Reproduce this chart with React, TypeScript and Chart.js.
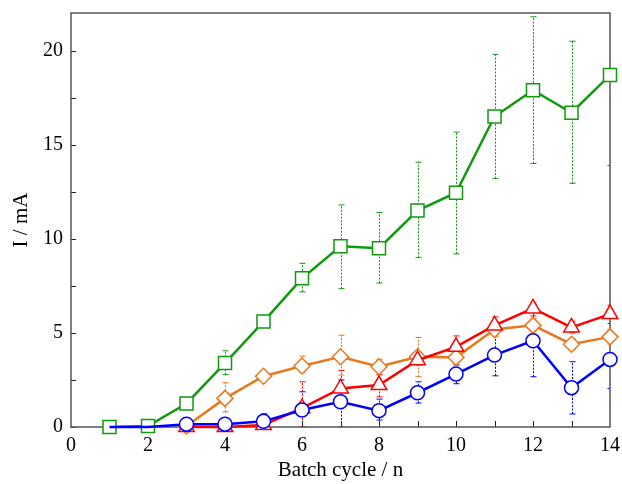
import React, { useEffect, useRef } from "react";
import { Chart, registerables } from "chart.js";

Chart.register(...registerables);

const cyclesAll = [1, 2, 3, 4, 5, 6, 7, 8, 9, 10, 11, 12, 13, 14];
const cyclesLate = [3, 4, 5, 6, 7, 8, 9, 10, 11, 12, 13, 14];

const greenVals = [0, 0.05, 1.25, 3.4, 5.6, 7.9, 9.6, 9.5, 11.5, 12.45, 16.5, 17.9, 16.7, 18.7];
const greenLow = [0, 0, 1.1, 2.78, 5.5, 7.18, 7.35, 7.65, 9.0, 9.2, 13.2, 14.0, 12.95, 13.9];
const greenHigh = [0, 0.15, 1.4, 4.05, 5.7, 8.7, 11.8, 11.4, 14.07, 15.67, 19.8, 21.8, 20.5, 23.5];

const orangeVals = [0.05, 1.52, 2.7, 3.24, 3.73, 3.2, 3.73, 3.7, 5.18, 5.4, 4.4, 4.79];
const orangeLow = [0, 0.8, 2.55, 2.9, 2.76, 2.76, 2.67, 3.3, 4.8, 5.1, 4.1, 4.4];
const orangeHigh = [0.1, 2.35, 2.85, 3.77, 4.88, 3.6, 4.76, 4.1, 5.6, 5.75, 4.7, 5.2];

const redVals = [0, 0, 0.1, 1.0, 2.05, 2.23, 3.55, 4.26, 5.4, 6.3, 5.29, 6.0];
const redLow = [0, 0, 0, 0, 1.3, 1.6, 3.3, 3.7, 4.9, 5.9, 5.0, 5.5];
const redHigh = [0, 0, 0.2, 2.4, 3.0, 2.8, 3.8, 4.84, 5.85, 6.6, 5.62, 6.47];

const blueVals = [0, 0, 0.15, 0.15, 0.3, 0.9, 1.34, 0.87, 1.82, 2.81, 3.82, 4.58, 2.09, 3.59];
const blueLow = [0, 0, 0.05, 0.05, 0.1, 0, 0, 0.37, 1.27, 2.3, 2.72, 2.67, 0.69, 2.05];
const blueHigh = [0, 0, 0.25, 0.3, 0.7, 1.87, 2.5, 1.48, 2.4, 3.3, 4.97, 6.5, 3.47, 5.1];
const blueFirstMarkedCycle = 3;

const xTicks = [0, 2, 4, 6, 8, 10, 12, 14];
const yTicks = [0, 5, 10, 15, 20];
const xTitle = "Batch cycle / n";
const yTitle = "I / mA";

const GREEN = "#109a10";
const ORANGE = "#e8781e";
const RED = "#ff0000";
const BLUE = "#0000ff";
const FONT = "'Liberation Serif', 'Times New Roman', serif";

const pts = (xs: number[], ys: number[]) => xs.map((x, i) => ({ x, y: ys[i] }));

const errorBars = {
  id: "errorBars",
  beforeDatasetsDraw(chart: any) {
    const { ctx, chartArea, scales } = chart;
    const xs = scales.x;
    const ys = scales.y;
    ctx.save();
    ctx.beginPath();
    ctx.rect(chartArea.left, chartArea.top, chartArea.right - chartArea.left, chartArea.bottom - chartArea.top);
    ctx.clip();
    chart.data.datasets.forEach((ds: any) => {
      const lo: number[] = ds.errLow;
      const hi: number[] = ds.errHigh;
      if (!lo) return;
      ctx.strokeStyle = ds.borderColor;
      ctx.lineWidth = 1;
      ds.data.forEach((p: any, i: number) => {
        if (hi[i] - lo[i] < 0.05) return;
        const px = Math.round(xs.getPixelForValue(p.x)) + 0.5;
        const y1 = ys.getPixelForValue(lo[i]);
        const y2 = ys.getPixelForValue(hi[i]);
        ctx.setLineDash([2, 1.5]);
        ctx.beginPath();
        ctx.moveTo(px, y1);
        ctx.lineTo(px, y2);
        ctx.stroke();
        ctx.setLineDash([]);
        ctx.beginPath();
        ctx.moveTo(px - 3, y1);
        ctx.lineTo(px + 3, y1);
        ctx.moveTo(px - 3, y2);
        ctx.lineTo(px + 3, y2);
        ctx.stroke();
      });
    });
    ctx.restore();
  },
};

const frame = {
  id: "frame",
  beforeDatasetsDraw(chart: any) {
    const { ctx, chartArea, scales } = chart;
    const { left, right, top, bottom } = chartArea;
    ctx.save();
    ctx.strokeStyle = "#222";
    ctx.lineWidth = 1;
    for (let v = 0; v <= 20; v += 2.5) {
      const y = Math.round(scales.y.getPixelForValue(v)) + 0.5;
      ctx.beginPath();
      ctx.moveTo(left, y);
      ctx.lineTo(left + 5, y);
      ctx.stroke();
    }
    for (let v = 1; v < 14; v += 1) {
      const x = Math.round(scales.x.getPixelForValue(v)) + 0.5;
      ctx.beginPath();
      ctx.moveTo(x, bottom);
      ctx.lineTo(x, bottom - 6);
      ctx.stroke();
    }
    ctx.strokeStyle = "#555";
    ctx.lineWidth = 1.5;
    ctx.strokeRect(left, top, right - left, bottom - top);
    ctx.restore();
  },
};

const zeroPad = (s: any) => {
  s.paddingLeft = 0;
  s.paddingRight = 0;
  s.paddingTop = 0;
  s.paddingBottom = 0;
};

export default function App() {
  const ref = useRef<HTMLCanvasElement>(null);
  useEffect(() => {
    if (!ref.current) return;
    const mk = (label: string, xs: number[], vals: number[], lo: number[], hi: number[], color: string, style: any, radius: any, order: number) => ({
      label,
      data: pts(xs, vals),
      errLow: lo,
      errHigh: hi,
      borderColor: color,
      backgroundColor: "#ffffff",
      borderWidth: 2.5,
      pointStyle: style,
      pointRadius: radius,
      pointBorderWidth: 1.5,
      pointBackgroundColor: "#ffffff",
      pointBorderColor: color,
      tension: 0,
      clip: 12,
      order,
    });
    const chart = new Chart(ref.current, {
      type: "line",
      data: {
        datasets: [
          mk("blue", cyclesAll, blueVals, blueLow, blueHigh, BLUE, "circle", (c: any) => (c.raw && c.raw.x < blueFirstMarkedCycle ? 0 : 7), 0),
          mk("green", cyclesAll, greenVals, greenLow, greenHigh, GREEN, "rect", 9.2, 1),
          mk("red", cyclesLate, redVals, redLow, redHigh, RED, "triangle", 9, 2),
          mk("orange", cyclesLate, orangeVals, orangeLow, orangeHigh, ORANGE, "rectRot", 8, 3),
        ] as any,
      },
      options: {
        animation: false,
        responsive: false,
        maintainAspectRatio: false,
        layout: { padding: { top: 13, right: 12, left: 0, bottom: 0 } },
        plugins: { legend: { display: false }, tooltip: { enabled: false } },
        scales: {
          x: {
            type: "linear",
            min: 0,
            max: 14,
            grid: { display: false, drawTicks: false },
            border: { display: false },
            afterBuildTicks: (s: any) => {
              s.ticks = xTicks.map((v) => ({ value: v }));
            },
            afterFit: (s: any) => {
              s.height = 57;
              zeroPad(s);
            },
            ticks: { color: "#000", font: { family: FONT, size: 20 }, padding: 7, maxRotation: 0 },
            title: { display: true, text: xTitle, color: "#000", font: { family: FONT, size: 21 }, padding: { top: 0, bottom: 1 } },
          },
          y: {
            type: "linear",
            min: 0,
            max: 22,
            grid: { display: false, drawTicks: false },
            border: { display: false },
            afterBuildTicks: (s: any) => {
              s.ticks = yTicks.map((v) => ({ value: v }));
            },
            afterFit: (s: any) => {
              s.width = 71;
              zeroPad(s);
            },
            ticks: { color: "#000", font: { family: FONT, size: 20 }, padding: 8 },
            title: { display: true, text: yTitle, color: "#000", font: { family: FONT, size: 21 }, padding: { top: 9, bottom: 0 } },
          },
        },
      } as any,
      plugins: [errorBars, frame],
    });
    return () => chart.destroy();
  }, []);
  return (
    <div style={{ position: "absolute", left: 0, top: 0, width: 622, height: 484 }}>
      <canvas ref={ref} width={622} height={484} style={{ display: "block", width: 622, height: 484 }} />
    </div>
  );
}
